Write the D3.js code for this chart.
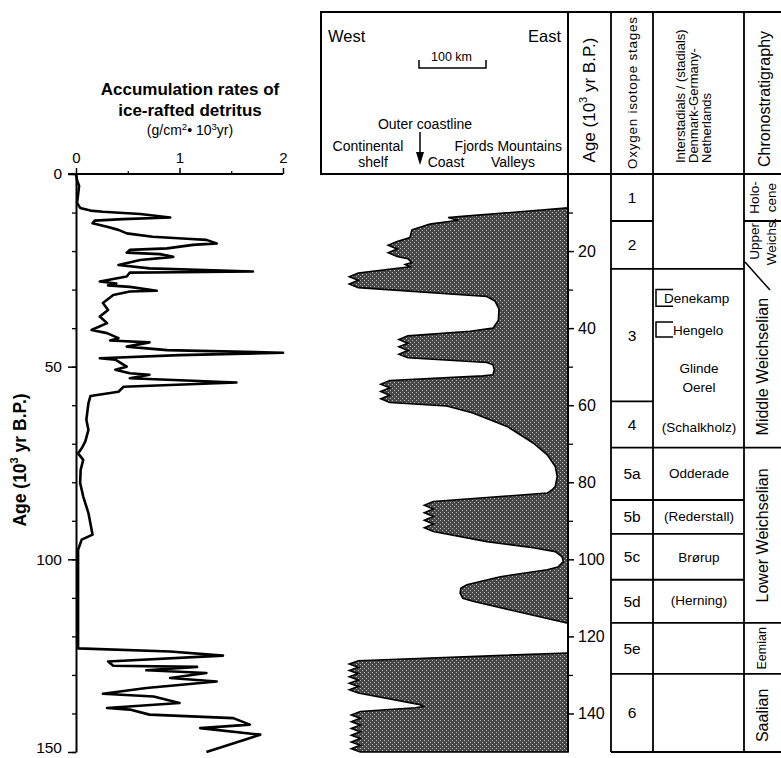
<!DOCTYPE html>
<html><head><meta charset="utf-8">
<script src="https://cdn.jsdelivr.net/npm/d3@7/dist/d3.min.js"></script>
<style>
body{margin:0;background:#fff}
svg{display:block}
text{font-family:"Liberation Sans",Arial,Helvetica,sans-serif;fill:#000}
</style>
</head><body>
<svg id="chart" width="781" height="758"></svg>
<script>
// ---------------- DATA ----------------
// Left panel: accumulation rate of ice-rafted detritus (g/cm2*10^3yr) vs age (10^3 yr B.P.)
const irdAge  = [0,1.6,3.1,5.4,7.5,8.8,9.5,9.8,10.4,11.3,11.7,12.1,12.8,13.7,14.5,15.4,16.3,16.8,17.1,18.0,18.4,19.3,19.7,20.4,20.8,21.5,22.3,23.6,24.5,25.3,25.5,25.6,26.6,27.9,28.4,28.9,29.3,30.3,30.5,31.4,33.5,35.3,37.0,38.7,40.5,41.3,42.6,43.2,43.7,44.8,45.7,46.4,47.0,47.8,48.2,50.0,50.8,51.7,52.1,53.0,54.1,55.2,56.5,57.6,59.5,63.8,66.4,69.4,71.2,72.5,74.2,76.8,80.2,83.7,88.0,93.6,94.9,97.5,102.7,123.1,123.9,125.0,126.5,127.6,127.9,128.8,129.5,130.8,131.7,133.4,134.9,135.6,137.3,138.6,139.0,140.3,141.2,142.9,143.8,145.5,150];
const irdRate = [0,0.01,0.03,0.02,0.01,0.04,0.14,0.26,0.62,0.91,0.45,0.18,0.16,0.30,0.41,0.49,0.74,1.07,1.26,1.36,1.13,0.88,0.52,0.49,0.81,0.94,0.62,0.41,0.71,1.71,1.00,0.52,0.49,0.23,0.39,0.31,0.52,0.78,0.52,0.36,0.26,0.31,0.23,0.30,0.15,0.30,0.41,0.33,0.71,0.49,0.88,2.0,1.0,0.23,0.38,0.49,0.38,0.52,0.71,0.52,1.55,0.46,0.41,0.14,0.12,0.10,0.12,0.09,0.055,0.02,0.07,0.045,0.04,0.07,0.12,0.16,0.055,0.02,0.02,0.02,0.91,1.42,0.31,0.36,1.17,0.68,1.26,0.91,1.36,0.68,0.26,0.75,1.0,0.30,0.52,0.71,1.52,1.68,1.20,1.78,1.26];
const rateTicks = [0, 1, 2];
const rateMinorTicks = [0.5, 1.5];
const leftAgeTicks = [0, 50, 100, 150];
const ageMinorTicks = d3.range(0, 151, 10);
const rightAgeTicks = [20, 40, 60, 80, 100, 120, 140];

// Middle panel: western margin of the ice sheet, km west of the eastern edge, vs age
const ice1Age = [8.8,11.0,11.3,12.0,13.0,14.5,16.5,17.5,21.4,22.0,23.0,23.5,24.1,25.7,29.5,31.8,33.0,35.0,38.0,40.0,40.8,42.0,47.7,48.9,49.5,50.8,52.1,52.4,53.6,59.3,60.2,62.0,65.5,69.8,72.9,75.9,78.5,81.1,82.0,82.8,83.7,85.0,92.8,95.4,97.0,98.0,99.3,100.6,102.0,102.7,104.5,106.6,107.5,108.8,110.1,110.9,116.6];
const ice1Km  = [0,158,179,164,206,233,236,255,255,239,233,243,236,313,313,121,109,103,104,112,146,239,239,121,112,110,112,127,266,266,181,142,91,52,31,19,16,19,24,31,101,201,201,121,52,19,9,7,15,31,101,151,160,161,157,142,0];
const ice2Age = [124.3,126.3,134.7,137.7,138.2,138.5,139.5,150,150];
const ice2Km  = [0,313,313,221,216,228,310,310,0];
// ages where the margin lies beyond the shelf (broken edge)
const brokenStarts = [17.5,25.7,42.0,53.6,85.0,126.3,139.5];

// Table
const isoStages = ["1","2","3","4","5a","5b","5c","5d","5e","6"];
const isoBounds = [0,12.2,24.6,59.0,71.0,84.6,93.4,105.3,116.5,129.7,150];
const interNames = ["Denekamp","Hengelo","Glinde","Oerel","(Schalkholz)","Odderade","(Rederstall)","Brørup","(Herning)"];
const interAges  = [32.4,40.7,50.6,55.3,65.9,77.6,89.0,99.4,110.8];
const interBrackets = [[30.0,34.3],[38.4,42.3]];
const chronoNames = [["Holo-","cene"],["Upper","Weichs."],["Middle Weichselian"],["Lower Weichselian"],["Eemian"],["Saalian"]];
const chronoMid = [6.1,17.5,50.0,93.8,123.1,140.5];
const chronoBounds = [12.2,71.0,116.5,129.7];

// ---------------- DRAWING ----------------
const svg = d3.select("#chart");
const yAge = d3.scaleLinear().domain([0,150]).range([174,752]);
const xRate = d3.scaleLinear().domain([0,2]).range([76,283]);
const xIce = d3.scaleLinear().domain([0,100]).range([568,501]);

const defs = svg.append("defs");
const pat = defs.append("pattern").attr("id","stip").attr("width",4).attr("height",4).attr("patternUnits","userSpaceOnUse");
pat.append("rect").attr("width",4).attr("height",4).attr("fill","#474747");
pat.append("rect").attr("x",0).attr("y",0).attr("width",1).attr("height",1).attr("fill","#b8b8b8");
pat.append("rect").attr("x",2).attr("y",2).attr("width",1).attr("height",1).attr("fill","#b8b8b8");

// ---- Left panel ----
const L = svg.append("g");
const tl = L.append("text").attr("x",190).attr("text-anchor","middle").style("font-weight","bold").style("font-size","17px");
tl.append("tspan").attr("x",190).attr("y",95).text("Accumulation rates of");
tl.append("tspan").attr("x",190).attr("y",116).text("ice-rafted detritus");
const un = L.append("text").attr("x",190).attr("y",135).attr("text-anchor","middle").style("font-size","14px");
un.append("tspan").text("(g/cm");
un.append("tspan").attr("dy",-5).style("font-size","9.5px").text("2");
un.append("tspan").attr("dy",5).text("\u2022 10");
un.append("tspan").attr("dy",-5).style("font-size","9.5px").text("3");
un.append("tspan").attr("dy",5).text("yr)");

const topAx = L.append("g").attr("transform","translate(0,174)")
  .call(d3.axisTop(xRate).tickValues(rateTicks).tickSize(6).tickSizeOuter(0).tickPadding(5).tickFormat(d3.format("d")));
topAx.select(".domain").remove();
topAx.selectAll("text").style("font-size","15px").attr("font-family",null);
topAx.selectAll("line").attr("stroke-width",1.5);
L.append("g").attr("transform","translate(0,174)")
  .call(d3.axisTop(xRate).tickValues(rateMinorTicks).tickSize(3).tickSizeOuter(0).tickFormat(""))
  .call(g=>g.select(".domain").remove()).selectAll("line").attr("stroke-width",1.2);
L.append("line").attr("x1",68).attr("x2",xRate(2)).attr("y1",174).attr("y2",174).attr("stroke","#000").attr("stroke-width",2);

const leftAx = L.append("g").attr("transform","translate(76,0)")
  .call(d3.axisLeft(yAge).tickValues(leftAgeTicks).tickSize(8).tickSizeOuter(0).tickPadding(6));
leftAx.select(".domain").attr("stroke-width",2);
leftAx.selectAll("text").style("font-size","15.5px").attr("font-family",null)
  .attr("dy",d=>d===150?"0.05em":"0.32em");
leftAx.selectAll("line").attr("stroke-width",1.5);
L.append("g").attr("transform","translate(76,0)")
  .call(d3.axisLeft(yAge).tickValues(ageMinorTicks).tickSize(4).tickSizeOuter(0).tickFormat(""))
  .call(g=>g.select(".domain").remove()).selectAll("line").attr("stroke-width",1.3);

const yt = L.append("text").attr("transform","translate(20,460) rotate(-90)").attr("text-anchor","middle")
  .attr("dominant-baseline","central").style("font-weight","bold").style("font-size","17.5px");
yt.append("tspan").text("Age (10");
yt.append("tspan").attr("dy",-6).style("font-size","11px").text("3");
yt.append("tspan").attr("dy",6).text(" yr B.P.)");

const irdLine = d3.line().x(d=>xRate(d[1])).y(d=>yAge(d[0]));
L.append("path").datum(irdAge.map((a,i)=>[a,irdRate[i]])).attr("d",irdLine)
  .attr("fill","none").attr("stroke","#000").attr("stroke-width",2.6).attr("stroke-linejoin","round");

// ---- Middle panel: ice extent ----
function icePoints(ages, kms){
  const pts=[];
  for(let i=0;i<ages.length;i++){
    const x=xIce(kms[i]), y=yAge(ages[i]);
    pts.push([x,y]);
    if(brokenStarts.includes(ages[i]) && i+1<ages.length){
      const y1=yAge(ages[i+1]);
      const n=Math.max(2,Math.round((y1-y)/7));
      for(let j=0;j<n;j++){
        pts.push([x-9, y+(j+0.5)*(y1-y)/n]);
        if(j<n-1) pts.push([x, y+(j+1)*(y1-y)/n]);
      }
    }
  }
  return pts;
}
const iceLine = d3.line().curve(d3.curveLinear);
[[ice1Age,ice1Km],[ice2Age,ice2Km]].forEach(([a,k])=>{
  svg.append("path").attr("d",iceLine(icePoints(a,k))+"Z")
    .attr("fill","url(#stip)").attr("stroke","#000").attr("stroke-width",1.6).attr("stroke-linejoin","miter");
});

// header box
const H = svg.append("g");
H.append("rect").attr("x",321).attr("y",12).attr("width",480).attr("height",162).attr("fill","none").attr("stroke","#000").attr("stroke-width",2);
[568,611,653,744].forEach(x=>{
  H.append("line").attr("x1",x).attr("x2",x).attr("y1",12).attr("y2",752).attr("stroke","#000").attr("stroke-width",x===568?2:1.8);
});
H.append("text").attr("x",328).attr("y",42).style("font-size","16.5px").text("West");
H.append("text").attr("x",561).attr("y",42).attr("text-anchor","end").style("font-size","16.5px").text("East");
// scale bar 100 km
const sb0 = 419, sbW = xIce(0)-xIce(100);
H.append("path").attr("d",`M${sb0},60V68H${sb0+sbW}V60`).attr("fill","none").attr("stroke","#000").attr("stroke-width",1.5);
H.append("text").attr("x",sb0+sbW/2-1).attr("y",61).attr("text-anchor","middle").style("font-size","12.5px").text("100 km");
H.append("text").attr("x",425).attr("y",129).attr("text-anchor","middle").style("font-size","14px").text("Outer coastline");
H.append("line").attr("x1",420).attr("x2",420).attr("y1",132).attr("y2",154).attr("stroke","#000").attr("stroke-width",1.5);
H.append("path").attr("d","M416,152L424,152L420,165Z").attr("fill","#000");
H.append("text").attr("x",368).attr("y",151).attr("text-anchor","middle").style("font-size","14px").text("Continental");
H.append("text").attr("x",373).attr("y",167).attr("text-anchor","middle").style("font-size","14px").text("shelf");
H.append("text").attr("x",562).attr("y",151).attr("text-anchor","end").style("font-size","14px").text("Fjords Mountains");
H.append("text").attr("x",446).attr("y",167).attr("text-anchor","middle").style("font-size","14px").text("Coast");
H.append("text").attr("x",513).attr("y",167).attr("text-anchor","middle").style("font-size","14px").text("Valleys");

// rotated header labels
function rotText(x,y,anchor,size){
  return H.append("text").attr("transform",`translate(${x},${y}) rotate(-90)`).attr("text-anchor",anchor)
    .attr("dominant-baseline","central").style("font-size",size);
}
const ah = rotText(589,100,"middle","17px");
ah.append("tspan").text("Age (10");
ah.append("tspan").attr("dy",-6).style("font-size","11px").text("3");
ah.append("tspan").attr("dy",6).text(" yr B.P.)");
rotText(632,93,"middle","13.5px").attr("textLength",152).attr("lengthAdjust","spacing").text("Oxygen isotope stages");
rotText(680,163,"start","13px").text("Interstadials / (stadials)");
rotText(693,163,"start","13px").text("Denmark-Germany-");
rotText(706,163,"start","13px").text("Netherlands");
rotText(764,99,"middle","16px").text("Chronostratigraphy");

// right age axis
const rAx = svg.append("g").attr("transform","translate(568,0)")
  .call(d3.axisRight(yAge).tickValues(rightAgeTicks).tickSize(6).tickSizeOuter(0).tickPadding(4));
rAx.select(".domain").remove();
rAx.selectAll("text").style("font-size","16px").attr("font-family",null);
rAx.selectAll("line").attr("stroke-width",1.5);
svg.append("g").attr("transform","translate(568,0)")
  .call(d3.axisRight(yAge).tickValues(ageMinorTicks.filter(d=>d>0 && d<150 && d%20!==0)).tickSize(5).tickSizeOuter(0).tickFormat(""))
  .call(g=>g.select(".domain").remove()).selectAll("line").attr("stroke-width",1.3);

// table
const T = svg.append("g");
const hl=(x1,x2,a)=>T.append("line").attr("x1",x1).attr("x2",x2).attr("y1",yAge(a)).attr("y2",yAge(a)).attr("stroke","#000").attr("stroke-width",1.8);
isoBounds.slice(1,-1).forEach(b=>{
  if(b===12.2||b===59.0) hl(611,653,b);
  else if(chronoBounds.includes(b)) hl(611,781,b);
  else hl(611,744,b);
});
hl(744,781,12.2);
hl(611,781,150);
isoStages.forEach((s,i)=>{
  T.append("text").attr("x",632).attr("y",(yAge(isoBounds[i])+yAge(isoBounds[i+1]))/2)
    .attr("text-anchor","middle").attr("dominant-baseline","central").style("font-size","15.5px").text(s);
});
interBrackets.forEach(([a,b])=>{
  T.append("path").attr("d",`M673,${yAge(a)}H656V${yAge(b)}H673`).attr("fill","none").attr("stroke","#000").attr("stroke-width",1.5);
});
interNames.forEach((n,i)=>{
  const t=T.append("text").attr("y",yAge(interAges[i])).attr("dominant-baseline","central").style("font-size","13.5px").text(n);
  if(i===0) t.attr("x",664);
  else if(i===1) t.attr("x",673);
  else t.attr("x",699).attr("text-anchor","middle");
});
// chronostratigraphy
T.append("line").attr("x1",745).attr("y1",262).attr("x2",770).attr("y2",290).attr("stroke","#000").attr("stroke-width",1.5);
chronoNames.forEach((n,i)=>{
  const y=yAge(chronoMid[i]);
  if(n.length===2){
    [754,771].forEach((x,j)=>{
      T.append("text").attr("transform",`translate(${x},${y}) rotate(-90)`).attr("text-anchor","middle")
        .attr("dominant-baseline","central").style("font-size","13.5px").text(n[j]);
    });
  } else {
    T.append("text").attr("transform",`translate(762,${y}) rotate(-90)`).attr("text-anchor","middle")
      .attr("dominant-baseline","central").style("font-size",n[0]==="Eemian"?"12.5px":"16px").text(n[0]);
  }
});
</script>
</body></html>
